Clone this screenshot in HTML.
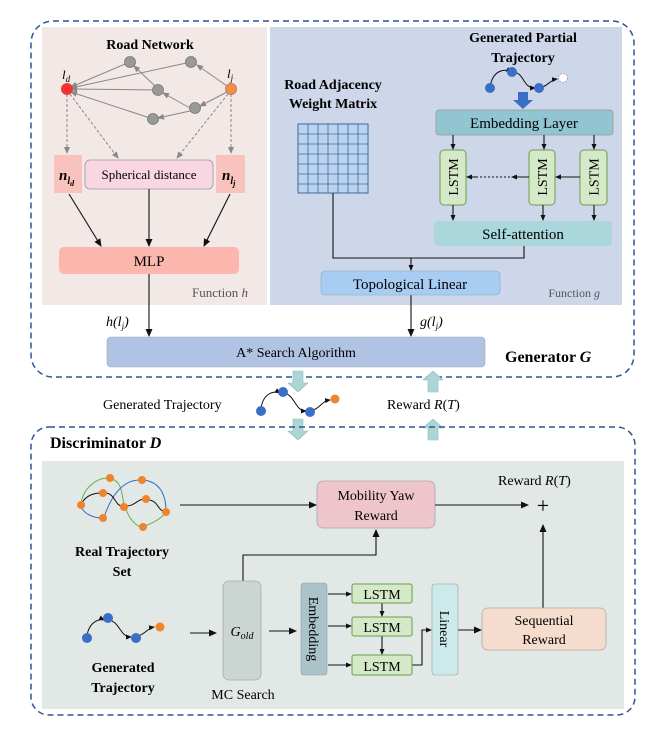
<!DOCTYPE html>
<html><head><meta charset="utf-8"><style>
html,body{margin:0;padding:0;background:#fff;}
svg{display:block;font-family:"Liberation Serif",serif;}
</style></head><body>
<svg width="659" height="731" viewBox="0 0 659 731" xmlns="http://www.w3.org/2000/svg">
<defs>
<marker id="a" markerWidth="8" markerHeight="8" refX="7" refY="4" orient="auto" markerUnits="userSpaceOnUse"><path d="M0,0.5 L8,4 L0,7.5 z" fill="#111"/></marker>
<marker id="g" markerWidth="7" markerHeight="7" refX="6" refY="3.5" orient="auto" markerUnits="userSpaceOnUse"><path d="M0,0.5 L7,3.5 L0,6.5 z" fill="#888"/></marker>
<marker id="s" markerWidth="6" markerHeight="6" refX="5" refY="3" orient="auto" markerUnits="userSpaceOnUse"><path d="M0,0.5 L6,3 L0,5.5 z" fill="#111"/></marker>
</defs>
<rect x="31" y="21" width="603" height="356" rx="22" fill="none" stroke="#2f5597" stroke-width="1.5" stroke-dasharray="6,4"/>
<rect x="42" y="27" width="225" height="278" fill="#f2e8e6"/>
<rect x="270" y="27" width="352" height="278" fill="#ced6ea"/>
<text x="150" y="49" font-size="14" font-weight="bold" text-anchor="middle">Road Network</text>
<g stroke="#888" stroke-width="1" fill="none">
<line x1="130" y1="62" x2="71" y2="87" marker-end="url(#g)"/>
<line x1="191" y1="62" x2="71" y2="88" marker-end="url(#g)"/>
<line x1="158" y1="90" x2="71" y2="89" marker-end="url(#g)"/>
<line x1="153" y1="119" x2="71" y2="92" marker-end="url(#g)"/>
<line x1="227" y1="86" x2="197" y2="65" marker-end="url(#g)"/>
<line x1="227" y1="92" x2="200" y2="106" marker-end="url(#g)"/>
<line x1="190" y1="108" x2="163" y2="93" marker-end="url(#g)"/>
<line x1="190" y1="111" x2="158" y2="118" marker-end="url(#g)"/>
<line x1="155" y1="86" x2="134" y2="66" marker-end="url(#g)"/>
<line x1="67" y1="94" x2="67" y2="153" stroke-dasharray="3,2" marker-end="url(#g)"/>
<line x1="231" y1="94" x2="231" y2="153" stroke-dasharray="3,2" marker-end="url(#g)"/>
<line x1="70" y1="94" x2="118" y2="158" stroke-dasharray="3,2" marker-end="url(#g)"/>
<line x1="228" y1="94" x2="177" y2="158" stroke-dasharray="3,2" marker-end="url(#g)"/>
</g>
<g fill="#999" stroke="#777" stroke-width="0.8">
<circle cx="130" cy="62" r="5.5"/><circle cx="191" cy="62" r="5.5"/><circle cx="158" cy="90" r="5.5"/><circle cx="195" cy="108" r="5.5"/><circle cx="153" cy="119" r="5.5"/>
</g>
<circle cx="67" cy="89" r="5.5" fill="#ff2d2d" stroke="#d44"/>
<circle cx="231" cy="89" r="5.5" fill="#f0923c" stroke="#c77"/>
<text x="62" y="79" font-size="13" font-style="italic">l<tspan font-size="9" dy="3">d</tspan></text>
<text x="227" y="78" font-size="13" font-style="italic">l<tspan font-size="9" dy="3">j</tspan></text>
<rect x="54" y="155" width="28" height="38" fill="#f8c3bd"/>
<rect x="216" y="155" width="29" height="38" fill="#f8c3bd"/>
<text x="59" y="180" font-size="15" font-weight="bold" font-style="italic">n<tspan font-size="10" dy="4">l</tspan><tspan font-size="8" dy="2">d</tspan></text>
<text x="222" y="180" font-size="15" font-weight="bold" font-style="italic">n<tspan font-size="10" dy="4">l</tspan><tspan font-size="8" dy="2">j</tspan></text>
<rect x="85" y="160" width="128" height="29" rx="5" fill="#f8d7e2" stroke="#999" stroke-width="0.8"/>
<text x="149" y="179" font-size="13" text-anchor="middle">Spherical distance</text>
<g stroke="#111" stroke-width="1.1" fill="none">
<line x1="69" y1="194" x2="101" y2="246" marker-end="url(#a)"/>
<line x1="149" y1="189" x2="149" y2="246" marker-end="url(#a)"/>
<line x1="230" y1="194" x2="204" y2="246" marker-end="url(#a)"/>
<line x1="149" y1="274" x2="149" y2="336" marker-end="url(#a)"/>
</g>
<rect x="59" y="247" width="180" height="27" rx="5" fill="#fbb6ad"/>
<text x="149" y="266" font-size="15" text-anchor="middle">MLP</text>
<text x="248" y="297" font-size="13" fill="#555" text-anchor="end">Function <tspan font-style="italic">h</tspan></text>
<text x="106" y="326" font-size="14" font-style="italic">h(l<tspan font-size="9" dy="3">j</tspan><tspan dy="-3">)</tspan></text>
<text x="333" y="89" font-size="14" font-weight="bold" text-anchor="middle">Road Adjacency</text>
<text x="333" y="108" font-size="14" font-weight="bold" text-anchor="middle">Weight Matrix</text>
<rect x="298" y="124" width="70" height="69" fill="#bcd3ee" stroke="#3c6aa0" stroke-width="1"/>
<g stroke="#3c6aa0" stroke-width="0.8">
<line x1="308" y1="124" x2="308" y2="193"/><line x1="318" y1="124" x2="318" y2="193"/><line x1="328" y1="124" x2="328" y2="193"/><line x1="338" y1="124" x2="338" y2="193"/><line x1="348" y1="124" x2="348" y2="193"/><line x1="358" y1="124" x2="358" y2="193"/>
<line x1="298" y1="134" x2="368" y2="134"/><line x1="298" y1="144" x2="368" y2="144"/><line x1="298" y1="154" x2="368" y2="154"/><line x1="298" y1="164" x2="368" y2="164"/><line x1="298" y1="174" x2="368" y2="174"/><line x1="298" y1="184" x2="368" y2="184"/>
</g>
<text x="523" y="42" font-size="14" font-weight="bold" text-anchor="middle">Generated Partial</text>
<text x="523" y="62" font-size="14" font-weight="bold" text-anchor="middle">Trajectory</text>
<g stroke="#111" stroke-width="1" fill="none">
<path d="M490,88 C492,70 505,68 511,72" marker-end="url(#s)"/>
<path d="M512,72 C525,72 522,88 535,88" marker-end="url(#s)"/>
<path d="M540,88 C548,86 550,80 557,79" marker-end="url(#s)"/>
</g>
<circle cx="490" cy="88" r="5" fill="#3a6fc8"/><circle cx="512" cy="72" r="5" fill="#3a6fc8"/><circle cx="539" cy="88" r="5" fill="#3a6fc8"/>
<circle cx="563" cy="78" r="4.5" fill="#fff" stroke="#aaa" stroke-dasharray="2,1"/>
<path d="M518,92 h10 v8 h5 l-10,9 l-10,-9 h5 z" fill="#3a6fc8"/>
<rect x="436" y="110" width="177" height="25" rx="3" fill="#92c5d2" stroke="#999" stroke-width="0.8"/>
<text x="524" y="128" font-size="15" text-anchor="middle">Embedding Layer</text>
<g fill="#d3e9c8" stroke="#6a9e4a" stroke-width="1">
<rect x="440" y="150" width="26" height="55" rx="4"/><rect x="529" y="150" width="26" height="55" rx="4"/><rect x="580" y="150" width="27" height="55" rx="4"/>
</g>
<g font-size="14" text-anchor="middle">
<text transform="translate(453,177) rotate(-90)"><tspan x="0" dy="5">LSTM</tspan></text>
<text transform="translate(542,177) rotate(-90)"><tspan x="0" dy="5">LSTM</tspan></text>
<text transform="translate(593.5,177) rotate(-90)"><tspan x="0" dy="5">LSTM</tspan></text>
</g>
<g stroke="#111" stroke-width="1.1" fill="none">
<line x1="453" y1="135" x2="453" y2="149" marker-end="url(#s)"/>
<line x1="544" y1="135" x2="544" y2="149" marker-end="url(#s)"/>
<line x1="594" y1="135" x2="594" y2="149" marker-end="url(#s)"/>
<line x1="453" y1="205" x2="453" y2="220" marker-end="url(#s)"/>
<line x1="543" y1="205" x2="543" y2="220" marker-end="url(#s)"/>
<line x1="594" y1="205" x2="594" y2="220" marker-end="url(#s)"/>
<line x1="580" y1="177" x2="556" y2="177" marker-end="url(#s)"/>
<line x1="529" y1="177" x2="512" y2="177" marker-end="url(#s)"/>
<line x1="510" y1="177" x2="478" y2="177" stroke-dasharray="2,2"/>
<line x1="478" y1="177" x2="467" y2="177" marker-end="url(#s)"/>
<polyline points="333,193 333,258 524,258 524,246"/>
<line x1="411" y1="258" x2="411" y2="270" marker-end="url(#s)"/>
<line x1="411" y1="295" x2="411" y2="336" marker-end="url(#a)"/>
</g>
<rect x="434" y="221" width="178" height="25" rx="4" fill="#a9d7dc"/>
<text x="523" y="239" font-size="15" text-anchor="middle">Self-attention</text>
<rect x="321" y="271" width="179" height="24" rx="4" fill="#a8cdf2" stroke="#8ab" stroke-width="0.6"/>
<text x="410" y="289" font-size="15" text-anchor="middle">Topological Linear</text>
<text x="600" y="297" font-size="12" fill="#555" text-anchor="end">Function <tspan font-style="italic">g</tspan></text>
<text x="420" y="326" font-size="14" font-style="italic">g(l<tspan font-size="9" dy="3">j</tspan><tspan dy="-3">)</tspan></text>
<rect x="107" y="337" width="378" height="30" rx="4" fill="#b0c3e3" stroke="#9ab" stroke-width="0.6"/>
<text x="296" y="357" font-size="14" text-anchor="middle">A* Search Algorithm</text>
<text x="505" y="362" font-size="16" font-weight="bold">Generator <tspan font-style="italic">G</tspan></text>
<g fill="#acd6d6" stroke="#8bbcbc" stroke-width="0.6">
<path d="M293,371 h10 v12 h5 l-10,9 l-10,-9 h5 z"/>
<path d="M293,419 h10 v12 h5 l-10,9 l-10,-9 h5 z"/>
<path d="M428,392 h10 v-12 h5 l-10,-9 l-10,9 h5 z"/>
<path d="M428,440 h10 v-12 h5 l-10,-9 l-10,9 h5 z"/>
</g>
<text x="103" y="409" font-size="14">Generated Trajectory</text>
<g stroke="#111" stroke-width="1" fill="none">
<path d="M261,410 C262,393 275,390 280,393" marker-end="url(#s)"/>
<path d="M284,393 C295,395 295,411 306,411" marker-end="url(#s)"/>
<path d="M313,410 C320,408 322,401 330,400" marker-end="url(#s)"/>
</g>
<circle cx="261" cy="411" r="5" fill="#3a6fc8"/><circle cx="283" cy="392" r="5" fill="#3a6fc8"/><circle cx="310" cy="412" r="5" fill="#3a6fc8"/><circle cx="335" cy="399" r="4.5" fill="#f0842c"/>
<text x="387" y="409" font-size="14">Reward <tspan font-style="italic">R</tspan>(<tspan font-style="italic">T</tspan>)</text>
<rect x="31" y="427" width="604" height="288" rx="18" fill="none" stroke="#2f5597" stroke-width="1.5" stroke-dasharray="6,4"/>
<text x="50" y="448" font-size="16" font-weight="bold">Discriminator <tspan font-style="italic">D</tspan></text>
<rect x="42" y="461" width="582" height="248" fill="#e1e8e6"/>
<g fill="none" stroke-width="1">
<path d="M81,505 C82,490 95,478 108,478" stroke="#6ab04c"/>
<path d="M112,479 C122,482 122,495 124,505" stroke="#6ab04c"/>
<path d="M126,509 C130,522 140,528 142,527" stroke="#6ab04c"/>
<path d="M145,526 C155,522 162,518 165,513" stroke="#6ab04c"/>
<path d="M81,507 C85,515 95,518 102,518" stroke="#3a6fc8"/>
<path d="M104,517 C110,500 120,480 140,480" stroke="#3a6fc8"/>
<path d="M144,480 C158,482 165,492 166,508" stroke="#3a6fc8"/>
<path d="M82,503 C86,495 95,493 101,493" stroke="#111"/>
<path d="M105,493 C115,493 115,506 122,506" stroke="#111"/>
<path d="M126,506 C135,506 138,499 144,499" stroke="#111"/>
<path d="M148,500 C158,500 158,511 164,511" stroke="#111"/>
</g>
<g fill="#f0842c"><circle cx="81" cy="505" r="4"/><circle cx="110" cy="478" r="4"/><circle cx="103" cy="493" r="4"/><circle cx="103" cy="518" r="4"/><circle cx="124" cy="507" r="4"/><circle cx="142" cy="480" r="4"/><circle cx="146" cy="499" r="4"/><circle cx="166" cy="512" r="4"/><circle cx="143" cy="527" r="4"/></g>
<text x="122" y="556" font-size="14" font-weight="bold" text-anchor="middle">Real Trajectory</text>
<text x="122" y="576" font-size="14" font-weight="bold" text-anchor="middle">Set</text>
<rect x="317" y="481" width="118" height="47" rx="6" fill="#efc5cc" stroke="#aaa" stroke-width="0.8"/>
<text x="376" y="500" font-size="14" text-anchor="middle">Mobility Yaw</text>
<text x="376" y="520" font-size="14" text-anchor="middle">Reward</text>
<text x="498" y="485" font-size="14">Reward <tspan font-style="italic">R</tspan>(<tspan font-style="italic">T</tspan>)</text>
<text x="543" y="513" font-size="22" text-anchor="middle">+</text>
<g stroke="#111" stroke-width="1.1" fill="none">
<line x1="180" y1="505" x2="316" y2="505" marker-end="url(#a)"/>
<line x1="435" y1="505" x2="528" y2="505" marker-end="url(#a)"/>
<line x1="543" y1="608" x2="543" y2="525" marker-end="url(#a)"/>
<polyline points="243,581 243,555 376,555 376,530" marker-end="url(#a)"/>
<line x1="190" y1="633" x2="216" y2="633" marker-end="url(#a)"/>
<line x1="269" y1="631" x2="296" y2="631" marker-end="url(#a)"/>
<line x1="328" y1="594" x2="351" y2="594" marker-end="url(#s)"/>
<line x1="328" y1="626" x2="351" y2="626" marker-end="url(#s)"/>
<line x1="328" y1="665" x2="351" y2="665" marker-end="url(#s)"/>
<line x1="382" y1="603" x2="382" y2="616" marker-end="url(#s)"/>
<line x1="382" y1="636" x2="382" y2="654" marker-end="url(#s)"/>
<polyline points="412,665 422,665 422,630 431,630" marker-end="url(#s)"/>
<line x1="458" y1="630" x2="481" y2="630" marker-end="url(#a)"/>
</g>
<rect x="482" y="608" width="124" height="42" rx="6" fill="#f6dccd" stroke="#aaa" stroke-width="0.8"/>
<text x="544" y="625" font-size="14" text-anchor="middle">Sequential</text>
<text x="544" y="644" font-size="14" text-anchor="middle">Reward</text>
<g stroke="#111" stroke-width="1" fill="none">
<path d="M87,637 C88,622 100,618 104,620" marker-end="url(#s)"/>
<path d="M109,620 C120,622 120,637 131,637" marker-end="url(#s)"/>
<path d="M138,636 C145,634 148,628 154,627" marker-end="url(#s)"/>
</g>
<circle cx="87" cy="638" r="5" fill="#3a6fc8"/><circle cx="108" cy="618" r="5" fill="#3a6fc8"/><circle cx="136" cy="638" r="5" fill="#3a6fc8"/><circle cx="160" cy="627" r="4.5" fill="#f0842c"/>
<text x="123" y="672" font-size="14" font-weight="bold" text-anchor="middle">Generated</text>
<text x="123" y="692" font-size="14" font-weight="bold" text-anchor="middle">Trajectory</text>
<rect x="223" y="581" width="38" height="99" rx="6" fill="#cbd6d2" stroke="#aaa" stroke-width="0.8"/>
<text x="242" y="636" font-size="14" font-style="italic" text-anchor="middle">G<tspan font-size="10" dy="3">old</tspan></text>
<text x="243" y="699" font-size="14" text-anchor="middle">MC Search</text>
<rect x="301" y="583" width="26" height="92" rx="3" fill="#a9c3c9" stroke="#99a" stroke-width="0.6"/>
<text transform="translate(309,629) rotate(90)" font-size="14" text-anchor="middle">Embedding</text>
<g fill="#d3e9c8" stroke="#6a9e4a" stroke-width="1">
<rect x="352" y="584" width="60" height="19" rx="2"/><rect x="352" y="617" width="60" height="19" rx="2"/><rect x="352" y="655" width="60" height="20" rx="2"/>
</g>
<g font-size="14" text-anchor="middle"><text x="382" y="599">LSTM</text><text x="382" y="632">LSTM</text><text x="382" y="671">LSTM</text></g>
<rect x="432" y="584" width="26" height="91" rx="3" fill="#cdeaea" stroke="#99a" stroke-width="0.6"/>
<text transform="translate(440,629) rotate(90)" font-size="14" text-anchor="middle">Linear</text>
</svg>
</body></html>
